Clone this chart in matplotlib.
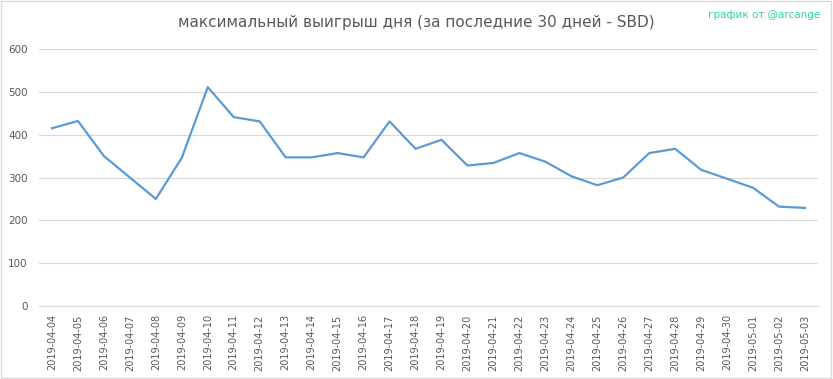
import matplotlib.pyplot as plt
from matplotlib.patches import Rectangle

dates = ['2019-04-04', '2019-04-05', '2019-04-06', '2019-04-07', '2019-04-08',
         '2019-04-09', '2019-04-10', '2019-04-11', '2019-04-12', '2019-04-13',
         '2019-04-14', '2019-04-15', '2019-04-16', '2019-04-17', '2019-04-18',
         '2019-04-19', '2019-04-20', '2019-04-21', '2019-04-22', '2019-04-23',
         '2019-04-24', '2019-04-25', '2019-04-26', '2019-04-27', '2019-04-28',
         '2019-04-29', '2019-04-30', '2019-05-01', '2019-05-02', '2019-05-03']
max_win = [415, 432, 350, 300, 250, 346, 511, 441, 431, 347,
           347, 357, 347, 431, 367, 388, 328, 334, 357, 337,
           303, 282, 300, 357, 367, 318, 297, 276, 232, 229]

grey = '#595959'

fig = plt.figure(figsize=(8.33, 3.79), dpi=100)
ax = fig.add_axes([0.0468, 0.1926, 0.9352, 0.6781])

x = range(len(dates))
ax.plot(x, max_win, color='#5B9BD5', linewidth=1.6)

ax.set_xlim(-0.5, len(dates) - 0.5)
ax.set_ylim(0, 600)
ax.set_yticks(range(0, 601, 100))
ax.set_xticks(list(x))
ax.set_xticklabels(dates, rotation=90, fontsize=7, color=grey)
ax.tick_params(axis='y', labelsize=7.5, colors=grey, length=0, pad=8)
ax.tick_params(axis='x', length=0, pad=6)
ax.grid(axis='y', color='#D9D9D9', linewidth=0.8)
ax.set_axisbelow(True)
for s in ['top', 'right', 'left']:
    ax.spines[s].set_visible(False)
ax.spines['bottom'].set_color('#D9D9D9')

fig.text(0.5, 0.94, 'максимальный выигрыш дня (за последние 30 дней - SBD)',
         ha='center', va='center', fontsize=11, color=grey)
fig.text(0.985, 0.96, 'график от @arcange', ha='right', va='center',
         fontsize=7.5, color='#2DD4A0')

# light frame round the figure
fig.patches.append(Rectangle((0.001, 0.002), 0.997, 0.995, transform=fig.transFigure,
                             fill=False, edgecolor='#D9D9D9', linewidth=1))

fig.savefig('out.png', dpi=100)
